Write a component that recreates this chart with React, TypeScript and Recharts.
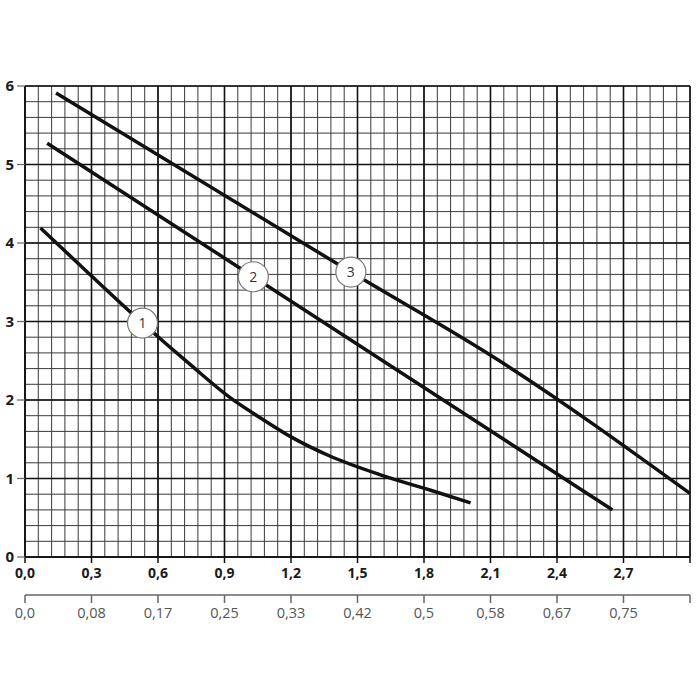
import React from 'react';
import { LineChart, Line, XAxis, YAxis, CartesianGrid, ReferenceDot } from 'recharts';

// flow Q (m3/h) and head H (m)
const curve1Q = [0.07, 0.3, 0.53, 0.75, 0.93, 1.08, 1.2, 1.38, 1.6, 1.83, 2.01];
const curve1H = [4.19, 3.58, 2.98, 2.44, 2.02, 1.74, 1.53, 1.28, 1.05, 0.85, 0.69];
const curve2Q = [0.1, 1.03, 2.65];
const curve2H = [5.27, 3.57, 0.6];
const curve3Q = [0.14, 1.47, 2.14, 3.0];
const curve3H = [5.91, 3.63, 2.5, 0.81];

// numbered markers sitting on each curve
const markerNames = ['1', '2', '3'];
const markerQ = [0.53, 1.03, 1.47];
const markerH = [2.98, 3.57, 3.63];

const xTicks = [0, 0.3, 0.6, 0.9, 1.2, 1.5, 1.8, 2.1, 2.4, 2.7, 3.0];
const xLabels = ['0,0', '0,3', '0,6', '0,9', '1,2', '1,5', '1,8', '2,1', '2,4', '2,7', ''];
const x2Labels = ['0,0', '0,08', '0,17', '0,25', '0,33', '0,42', '0,5', '0,58', '0,67', '0,75', ''];
const yTicks = [0, 1, 2, 3, 4, 5, 6];

const minorX = Array.from({ length: 51 }, (_, i) => +(i * 0.06).toFixed(2));
const minorY = Array.from({ length: 31 }, (_, i) => +(i * 0.2).toFixed(1));

const toRows = (q: number[], h: number[]) => q.map((v, i) => ({ q: v, h: h[i] }));

const curves = [toRows(curve1Q, curve1H), toRows(curve2Q, curve2H), toRows(curve3Q, curve3H)];

const boldTick = { fill: '#1a1a1a', fontSize: 14, fontWeight: 700 };

export default function App() {
  return (
    <div
      style={{
        position: 'absolute',
        left: 0,
        top: 0,
        width: 700,
        height: 700,
        background: '#fff',
        fontFamily: '"Open Sans", sans-serif',
      }}
    >
      <LineChart
        width={700}
        height={700}
        data={curves[2]}
        margin={{ top: 86, right: 10, bottom: 65, left: 0 }}
      >
        <CartesianGrid
          stroke="#3a3a3a"
          strokeWidth={1}
          horizontalValues={minorY}
          verticalValues={minorX}
        />
        <CartesianGrid
          stroke="#111"
          strokeWidth={1.6}
          horizontalValues={yTicks}
          verticalValues={xTicks}
        />
        <XAxis
          type="number"
          dataKey="q"
          domain={[0, 3]}
          ticks={xTicks}
          tickFormatter={(v: number) => xLabels[xTicks.indexOf(v)] ?? ''}
          tick={boldTick}
          height={38}
          tickSize={6}
          tickMargin={5}
          interval={0}
          axisLine={{ stroke: '#111', strokeWidth: 1.5 }}
          tickLine={{ stroke: '#111', strokeWidth: 1.5 }}
          allowDataOverflow
        />
        <XAxis
          xAxisId="b"
          type="number"
          dataKey="q"
          domain={[0, 3]}
          ticks={xTicks}
          tickFormatter={(v: number) => x2Labels[xTicks.indexOf(v)] ?? ''}
          tick={{ fill: '#555', fontSize: 14.5 }}
          height={40}
          tickSize={8}
          tickMargin={5}
          interval={0}
          axisLine={{ stroke: '#666', strokeWidth: 1.5 }}
          tickLine={{ stroke: '#666', strokeWidth: 1.5 }}
          allowDataOverflow
        />
        <YAxis
          type="number"
          dataKey="h"
          domain={[0, 6]}
          ticks={yTicks}
          tick={{ ...boldTick, fontSize: 15 }}
          width={25}
          tickSize={8}
          tickMargin={3}
          interval={0}
          axisLine={{ stroke: '#111', strokeWidth: 1.5 }}
          tickLine={{ stroke: '#666', strokeWidth: 1.2 }}
        />
        {curves.map((rows, i) => (
          <Line
            key={i}
            data={rows}
            dataKey="h"
            type="monotone"
            stroke="#111"
            strokeWidth={3.5}
            dot={false}
            activeDot={false}
            isAnimationActive={false}
          />
        ))}
        {markerNames.map((name, i) => (
          <ReferenceDot
            key={name}
            x={markerQ[i]}
            y={markerH[i]}
            r={15}
            fill="#fff"
            stroke="#777"
            strokeWidth={1.2}
            label={{ value: name, position: 'center', fill: '#333', fontSize: 14 }}
          />
        ))}
      </LineChart>
    </div>
  );
}
